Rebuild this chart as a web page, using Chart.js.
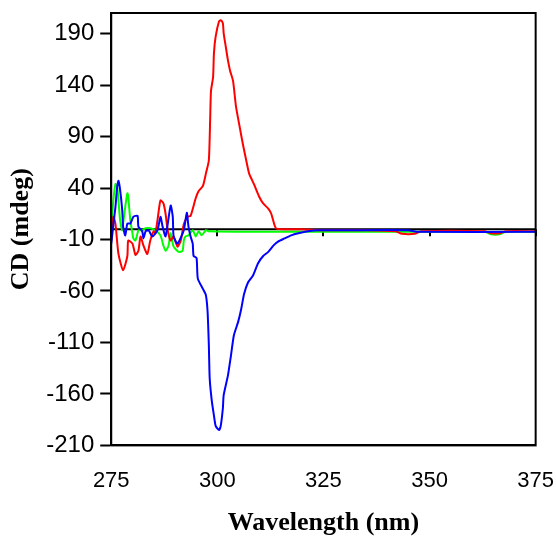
<!DOCTYPE html>
<html>
<head>
<meta charset="utf-8">
<script src="https://cdn.jsdelivr.net/npm/chart.js@4/dist/chart.umd.min.js"></script>
<style>
    html, body { margin: 0; padding: 0; background: #fff; }
    #wrap { width: 556px; height: 540px; }
</style>
</head>
<body>
<div id="wrap"><canvas id="cdChart"></canvas></div>
<script>
/* CD SPECTRA */

const redNm = [275.0, 275.5, 276.0, 276.7, 277.8, 278.8, 279.0, 280.0, 280.7, 281.4, 281.9, 282.6, 283.5, 284.2, 285.0, 285.4,
    286.1, 286.6, 287.3, 287.8, 288.3, 289.0, 289.7, 290.6, 291.4, 292.1, 293.0, 293.7, 294.9, 295.6, 296.6, 297.3,
    298.0, 298.3, 298.5, 299.0, 299.2, 299.6, 300.4, 300.8, 301.3, 301.5, 302.0, 302.5, 303.0, 303.7, 304.4, 305.1,
    306.0, 306.8, 307.5, 308.6, 309.8, 310.8, 312.0, 312.7, 313.4, 313.9, 316, 320, 325, 335, 342, 343.5, 346.5, 348,
    363, 364.5, 366.5, 368, 375]
const redCd = [-11, 12, 5, -24, -40, -26, -11, -14, -25, -21, -7, -16, -24, -11, -2, -4,
    15, 28, 25, 15, -1, -11, -7, -17, -11, 5, 12, 13, 30, 37, 42, 54,
    67, 105, 134, 148, 171, 187, 202, 203, 200, 190, 177, 164, 154, 144, 119, 103,
    83, 67, 54, 44, 32, 25, 20, 15, 5, 0.5, 0, 0, -1, -1, -2, -4.5, -4.5, -2,
    -2, -4, -4, -2, -2]

const blueNm = [275.0, 275.2, 276.0, 276.4, 276.7, 277.1, 277.6, 277.8, 278.3, 278.8, 279.5, 280.2, 281.2, 281.4, 282.3,
    282.6, 283.1, 283.8, 284.7, 285.9, 286.6, 287.1, 287.8, 289.0, 289.5, 289.7, 290.6, 292.1, 292.8, 293.2, 293.7,
    294.2, 294.4, 295.1, 295.4, 296.6, 297.3, 297.7, 298.0, 298.2, 298.7, 299.2, 299.6, 300.4, 300.8, 301.3, 301.5,
    302.5, 303.2, 303.9, 304.9, 305.6, 306.3, 307.2, 308.4, 309.6, 310.8, 312.0, 313.2, 314.3, 315.8, 317.4, 319.1,
    321.4, 323.8, 330, 345, 347, 375]
const blueCd = [-14, -7, 22, 41, 47, 38, 18, 2.5, -6, 5.5, 5.5, 12, 13, 2.5, -2,
    -9, -2, -1, -7, -1, 12, 2.5, -7, 23, 12, -7, -14, -1, 16, 2.5, -7,
    -14, -26, -28, -48, -58, -64, -80, -113, -145, -167, -181, -191, -195, -191, -174, -161,
    -142, -123, -103, -90, -78, -63, -52, -45, -33, -26, -22, -16, -12, -9, -6, -4,
    -2, -1, -1, -1, -2.5, -2.5]

const greenNm = [275.0, 275.5, 276.0, 276.4, 276.7, 277.1, 277.6, 277.8, 278.3, 278.8, 279.0, 279.5, 280.0, 280.2, 280.7,
    281.2, 281.4, 282.3, 283.1, 284.2, 285.4, 286.6, 287.3, 287.8, 288.5, 289.0, 289.7, 290.9, 291.8, 292.1, 292.5,
    293.2, 294.2, 294.9, 295.6, 296.3, 297.3, 298.0, 310, 340, 363, 364.5, 366.5, 368, 375]
const greenCd = [-1, 28, 44, 41, 28, 8.5, -1, 5.5, 22, 35, 32, 8.5, -4, -9, -11,
    -4, -1, -1, 1, 1, -1, -6, -16, -21, -16, -4, -17, -22, -21, -11, -7,
    -6, -1, -7, -2, -6, -1, -2, -2.5, -2.5, -2.5, -5, -5, -2.5, -2.5]

const xTicks = [275, 300, 325, 350, 375]
const yTicks = [-210, -160, -110, -60, -10, 40, 90, 140, 190]

function toPoints(xs, ys) {
    return xs.map((x, i) => ({ x, y: ys[i] }))
}

/* box frame + zero line with its tick marks */
const framePlugin = {
    id: 'frame',
    beforeDatasetsDraw(chart) {
        const { ctx, chartArea: a, scales: { x, y } } = chart
        const y0 = y.getPixelForValue(0)
        ctx.save()
        ctx.strokeStyle = '#000'
        ctx.lineWidth = 2
        ctx.beginPath()
        ctx.moveTo(a.left, y0)
        ctx.lineTo(a.right, y0)
        xTicks.forEach((v) => {
            const px = Math.round(x.getPixelForValue(v))
            ctx.moveTo(px, y0)
            ctx.lineTo(px, y0 + 7)
        })
        ctx.stroke()
        ctx.restore()
    },
    afterDraw(chart) {
        const { ctx, chartArea: a } = chart
        ctx.save()
        ctx.strokeStyle = '#000'
        ctx.lineWidth = 2
        ctx.strokeRect(a.left, a.top, a.right - a.left, a.bottom - a.top)
        ctx.restore()
    }
}

function series(label, data, color) {
    return {
        label,
        data,
        borderColor: color,
        backgroundColor: color,
        borderWidth: 2,
        pointRadius: 0,
        tension: 0.2,
        fill: false
    }
}

const tickFont = { family: '"Liberation Sans", Arial, sans-serif', size: 22 }
const titleFont = { family: '"Liberation Serif", "Times New Roman", serif', size: 26, weight: 'bold' }

new Chart(document.getElementById('cdChart'), {
    type: 'line',
    data: {
        datasets: [
            series('blue', toPoints(blueNm, blueCd), '#0000ff'),
            series('red', toPoints(redNm, redCd), '#ff0000'),
            series('green', toPoints(greenNm, greenCd), '#00ff00')
        ]
    },
    options: {
        responsive: true,
        maintainAspectRatio: false,
        animation: false,
        layout: { padding: { top: 13, right: 0, bottom: 0, left: 0 } },
        plugins: {
            legend: { display: false },
            tooltip: { enabled: false }
        },
        scales: {
            x: {
                type: 'linear',
                min: 275,
                max: 375,
                afterBuildTicks: (s) => { s.ticks = xTicks.map((v) => ({ value: v })) },
                // transparent tick marks only make the gap under the box
                grid: { display: true, drawOnChartArea: false, drawTicks: true, tickLength: 20, tickColor: 'rgba(0,0,0,0)' },
                border: { display: true, color: '#000', width: 2 },
                ticks: { color: '#000', padding: 2, maxRotation: 0, font: tickFont },
                title: {
                    display: true,
                    text: 'Wavelength (nm)',
                    color: '#000',
                    padding: { top: 12, bottom: 1 },
                    font: titleFont
                }
            },
            y: {
                type: 'linear',
                min: -210,
                max: 210,
                afterBuildTicks: (s) => { s.ticks = yTicks.map((v) => ({ value: v })) },
                grid: { display: true, drawOnChartArea: false, drawTicks: true, tickLength: 11, tickColor: '#000', tickWidth: 2 },
                border: { display: true, color: '#000', width: 2 },
                ticks: { color: '#000', padding: 6, font: { ...tickFont, size: 24, lineHeight: 0.5 } },
                title: {
                    display: true,
                    text: 'CD (mdeg)',
                    color: '#000',
                    padding: { top: 6, bottom: 3 },
                    font: titleFont
                }
            }
        }
    },
    plugins: [framePlugin]
})
</script>
</body>
</html>
